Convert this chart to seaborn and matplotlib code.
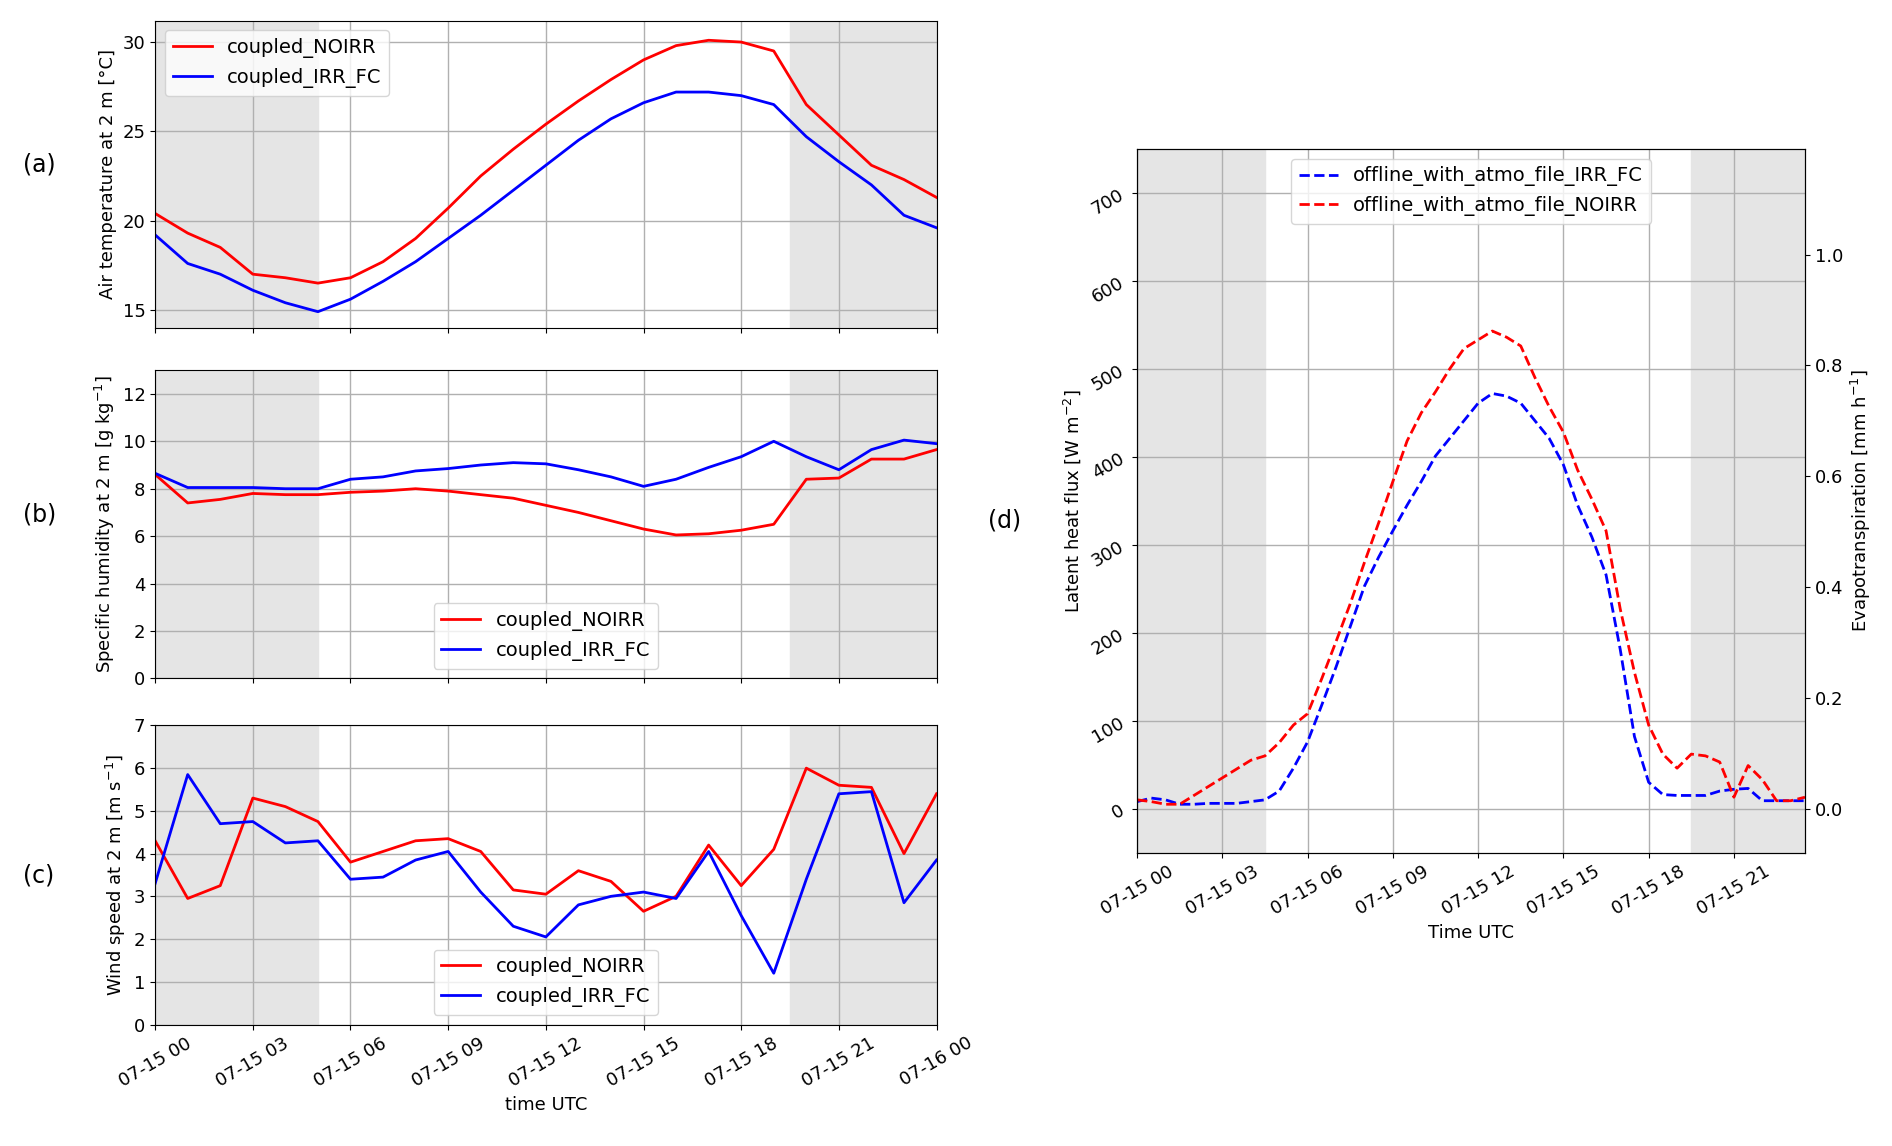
import matplotlib
matplotlib.use('Agg')
import matplotlib.pyplot as plt
import matplotlib.dates as mdates
import seaborn as sns
import pandas as pd
import numpy as np

# hourly coupled runs, 07-15 00 .. 07-16 00
t2m_noirr = [20.4, 19.3, 18.5, 17.0, 16.8, 16.5, 16.8, 17.7, 19.0, 20.7, 22.5, 24.0, 25.4,
             26.7, 27.9, 29.0, 29.8, 30.1, 30.0, 29.5, 26.5, 24.8, 23.1, 22.3, 21.3]
t2m_irr = [19.2, 17.6, 17.0, 16.1, 15.4, 14.9, 15.6, 16.6, 17.7, 19.0, 20.3, 21.7, 23.1,
           24.5, 25.7, 26.6, 27.2, 27.2, 27.0, 26.5, 24.7, 23.3, 22.0, 20.3, 19.6]
q2m_noirr = [8.6, 7.4, 7.55, 7.8, 7.75, 7.75, 7.85, 7.9, 8.0, 7.9, 7.75, 7.6, 7.3,
             7.0, 6.65, 6.3, 6.05, 6.1, 6.25, 6.5, 8.4, 8.45, 9.25, 9.25, 9.65]
q2m_irr = [8.65, 8.05, 8.05, 8.05, 8.0, 8.0, 8.4, 8.5, 8.75, 8.85, 9.0, 9.1, 9.05,
           8.8, 8.5, 8.1, 8.4, 8.9, 9.35, 10.0, 9.35, 8.8, 9.65, 10.05, 9.9]
ws_noirr = [4.3, 2.95, 3.25, 5.3, 5.1, 4.75, 3.8, 4.05, 4.3, 4.35, 4.05, 3.15, 3.05,
            3.6, 3.35, 2.65, 3.0, 4.2, 3.25, 4.1, 6.0, 5.6, 5.55, 4.0, 5.4]
ws_irr = [3.3, 5.85, 4.7, 4.75, 4.25, 4.3, 3.4, 3.45, 3.85, 4.05, 3.1, 2.3, 2.05,
          2.8, 3.0, 3.1, 2.95, 4.05, 2.55, 1.2, 3.4, 5.4, 5.45, 2.85, 3.85]

# half-hourly offline runs, 07-15 00:00 .. 23:30
le_irr = [8, 12, 10, 5, 5, 6, 6, 6, 8, 10, 20, 46, 76, 118, 161, 207, 253, 286, 316, 345,
          372, 401, 421, 441, 461, 472, 469, 461, 441, 421, 391, 345, 309, 266, 181, 82,
          30, 16, 15, 15, 15, 20, 22, 23, 9, 9, 9, 9]
le_noirr = [10, 8, 5, 5, 15, 25, 35, 45, 55, 60, 75, 95, 108, 148, 190, 233, 280, 325, 372, 418,
            450, 474, 500, 523, 533, 543, 536, 526, 490, 457, 428, 385, 352, 316, 227, 155,
            95, 62, 46, 62, 60, 53, 13, 49, 33, 9, 9, 13]

hourly = pd.date_range('2000-07-15 00:00', periods=25, freq='h')
halfhourly = pd.date_range('2000-07-15 00:00', periods=48, freq='30min')
day0 = pd.Timestamp('2000-07-15')
ticks_left = pd.date_range('2000-07-15 00:00', periods=9, freq='3h')
ticks_d = pd.date_range('2000-07-15 00:00', periods=8, freq='3h')

plt.rcParams['font.size'] = 13
fig = plt.figure(figsize=(18.92, 11.46), dpi=100)
ax_a = fig.add_axes([0.082, 0.714, 0.413, 0.268])
ax_b = fig.add_axes([0.082, 0.408, 0.413, 0.269])
ax_c = fig.add_axes([0.082, 0.106, 0.413, 0.261])
ax_d = fig.add_axes([0.601, 0.256, 0.353, 0.614])

fmt = mdates.DateFormatter('%m-%d %H')
shade = '#e5e5e5'

panels = [(ax_a, t2m_noirr, t2m_irr, 'Air temperature at 2 m [°C]', (14, 31.2), [15, 20, 25, 30], 'upper left'),
          (ax_b, q2m_noirr, q2m_irr, 'Specific humidity at 2 m [g kg$^{-1}$]', (0, 13), range(0, 13, 2), 'lower center'),
          (ax_c, ws_noirr, ws_irr, 'Wind speed at 2 m [m s$^{-1}$]', (0, 7), range(0, 8), 'lower center')]
for ax, noirr, irr, ylab, ylim, yt, lloc in panels:
    ax.axvspan(day0, day0 + pd.Timedelta(hours=5), color=shade, zorder=0)
    ax.axvspan(day0 + pd.Timedelta(hours=19.5), day0 + pd.Timedelta(hours=24), color=shade, zorder=0)
    sns.lineplot(x=hourly, y=noirr, color='red', lw=2, label='coupled_NOIRR', ax=ax)
    sns.lineplot(x=hourly, y=irr, color='blue', lw=2, label='coupled_IRR_FC', ax=ax)
    ax.set_xlim(hourly[0], hourly[-1])
    ax.set_ylim(*ylim)
    ax.set_yticks(list(yt))
    ax.set_ylabel(ylab, fontsize=13)
    ax.set_xlabel('')
    ax.set_xticks(ticks_left)
    ax.xaxis.set_major_formatter(fmt)
    ax.grid(True, color='#b0b0b0', lw=1)
    ax.legend(loc=lloc, fontsize=14)
    if ax is not ax_c:
        ax.tick_params(labelbottom=False)
    ax.tick_params(labelsize=13)
ax_c.set_xlabel('time UTC', fontsize=13)
for lab in ax_c.get_xticklabels():
    lab.set_rotation(30)
    lab.set_ha('center')

ax_d.axvspan(day0, day0 + pd.Timedelta(hours=4.5), color=shade, zorder=0)
ax_d.axvspan(day0 + pd.Timedelta(hours=19.5), halfhourly[-1], color=shade, zorder=0)
sns.lineplot(x=halfhourly, y=le_irr, color='blue', lw=2, ls='--', label='offline_with_atmo_file_IRR_FC', ax=ax_d)
sns.lineplot(x=halfhourly, y=le_noirr, color='red', lw=2, ls='--', label='offline_with_atmo_file_NOIRR', ax=ax_d)
ax_d.set_xlim(halfhourly[0], halfhourly[-1])
ax_d.set_ylim(-50, 750)
ax_d.set_yticks(range(0, 701, 100))
ax_d.set_xticks(ticks_d)
ax_d.xaxis.set_major_formatter(fmt)
ax_d.grid(True, color='#b0b0b0', lw=1)
ax_d.set_xlabel('Time UTC', fontsize=13)
ax_d.set_ylabel('Latent heat flux [W m$^{-2}$]', fontsize=13)
ax_d.legend(loc='upper center', fontsize=14)
ax_d.tick_params(labelsize=13)
for lab in ax_d.get_xticklabels():
    lab.set_rotation(30)
    lab.set_ha('center')
for lab in ax_d.get_yticklabels():
    lab.set_rotation(30)
ax_r = ax_d.twinx()
ax_r.set_ylim(-50 / 630, 750 / 630)
ax_r.set_yticks([0, 0.2, 0.4, 0.6, 0.8, 1.0])
ax_r.set_ylabel('Evapotranspiration [mm h$^{-1}$]', fontsize=13)
ax_r.tick_params(labelsize=13)

fig.text(0.012, 0.85, '(a)', fontsize=17)
fig.text(0.012, 0.545, '(b)', fontsize=17)
fig.text(0.012, 0.23, '(c)', fontsize=17)
fig.text(0.522, 0.54, '(d)', fontsize=17)

fig.savefig('out.png', dpi=100)
